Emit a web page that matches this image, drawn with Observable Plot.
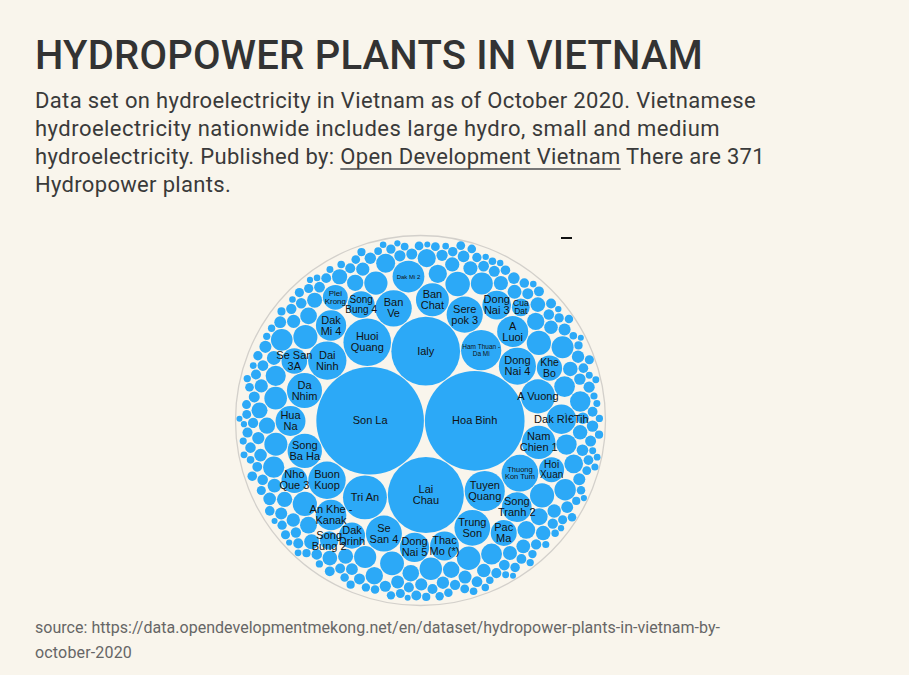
<!DOCTYPE html>
<html><head><meta charset="utf-8">
<script src="https://cdn.jsdelivr.net/npm/d3@7"></script>
<script src="https://cdn.jsdelivr.net/npm/@observablehq/plot@0.6"></script>
<style>
html,body{margin:0;padding:0;background:#f9f5ec;width:909px;height:675px;overflow:hidden;position:relative;}
.line{position:absolute;left:35px;white-space:nowrap;font-family:Roboto,"Open Sans",sans-serif;line-height:normal;}
.title{font-size:40px;font-weight:500;color:#333;}
.sub{font-size:22px;color:#3a3a3a;}
.src{font-size:16px;color:#666;}
a{color:inherit;text-decoration:underline;text-decoration-color:#777;text-underline-offset:4px;text-decoration-thickness:1.5px}
#chart{position:absolute;left:0;top:230px;}
#tick{position:absolute;left:561px;top:237px;width:11px;height:1.5px;background:#111;}
</style></head><body>
<div class="line title" data-base="69" data-w="668"><span>HYDROPOWER PLANTS IN VIETNAM</span></div>
<div class="line sub" data-base="107.5" data-w="721"><span>Data set on hydroelectricity in Vietnam as of October 2020. Vietnamese</span></div>
<div class="line sub" data-base="135.8" data-w="685"><span>hydroelectricity nationwide includes large hydro, small and medium</span></div>
<div class="line sub" data-base="164.1" data-w="730"><span>hydroelectricity. Published by: <a href="#">Open Development Vietnam</a> There are 371</span></div>
<div class="line sub" data-base="192.4" data-w="196"><span>Hydropower plants.</span></div>
<div class="line src" data-base="633.3" data-w="685"><span>source: https://data.opendevelopmentmekong.net/en/dataset/hydropower-plants-in-vietnam-by-</span></div>
<div class="line src" data-base="658.3" data-w="97"><span>october-2020</span></div>
<div id="tick"></div>
<div id="chart"></div>
<script>
// Named plants (labelled circles), sizes
const plantNames = ["Son La","Hoa Binh","Lai Chau","Ialy","Huoi Quang","Tri An","Ham Thuan - Da Mi","Tuyen Quang","Dai Ninh","Buon Kuop","Dong Nai 4","Thuong Kon Tum","Ban Ve","Sere pok 3","Se San 4","Trung Son","Da Nhim","Song Ba Ha","A Vuong","Nam Chien 1","Ban Chat","Dak Mi 2","A Luoi","An Khe - Kanak","Dak Mi 4","Hua Na","Song Tranh 2","Dak R'Tih","Dong Nai 5","Thac Mo","Dong Nai 3","Song Bung 4","Dak Drinh","Pac Ma","Nho Que 3","Se San 3A","Khe Bo","Hoi Xuan","Plei Krong","Song Bung 2","Cua Dat"];
const plantLabels = ["Son La","Hoa Binh","Lai\nChau","Ialy","Huoi\nQuang","Tri An","Ham Thuan -\nDa Mi","Tuyen\nQuang","Dai\nNinh","Buon\nKuop","Dong\nNai 4","Thuong\nKon Tum","Ban\nVe","Sere\npok 3","Se\nSan 4","Trung\nSon","Da\nNhim","Song\nBa Ha","A Vuong","Nam\nChien 1","Ban\nChat","Dak Mi 2","A\nLuoi","An Khe -\nKanak","Dak\nMi 4","Hua\nNa","Song\nTranh 2","Dak R\u00cc\u20acTih","Dong\nNai 5","Thac\nMo (*)","Dong\nNai 3","Song\nBung 4","Dak\nDrinh","Pac\nMa","Nho\nQue 3","Se San\n3A","Khe\nBo","Hoi\nXuan","Plei\nKrong","Song\nBung 2","Cua\nDat"];
const plantValues = [2400,2060,1200,980,470,400,336,334,305,290,285,280,275,272,268,265,255,245,240,232,225,210,200,195,190,186,183,180,178,172,170,150,142,140,138,136,132,130,128,71,66];
// Unlabelled plants, sizes
const otherValues = [
125,122,122,121,120,118,115,112,
110,106,105,102,100,100,97,95,93,91,89,87,86,84,
75,73,69,68,65,63,62,60,59,58,57,56,55,54,53,
49,48,47,47,46,45,45,44,44,43,42,42,41,41,40,40,39,39,38,38,37,37,36,36,36,35,35,
33,33,32,32,31,31,30,30,30,30,
29,29,29,28,28,28,28,27,27,27,
26,26,26,26,25,25,25,25,25,25,
24,24,24,24,24,23,23,23,23,23,
22,22,22,22,22,22,21,21,21,21,
21,21,21,20.5,20.5,20.5,20,20,20,20,
20,20,19.5,19.5,19,19,19,19,18.5,18.5,
18,18,18,18,18,17.5,17.5,17,17,17,
17,16.5,16.5,16.5,16,16,16,16,16,15.5,
15.5,15.5,15,15,15,15,15,15,14.5,14.5,
14.5,14.5,14,14,14,14,14,14,14,13.5,
12.5,12.5,12,12,12,12,12,11.5,11.5,11.5,
11,11,11,11,11,11,10.5,10.5,10.5,10.5,
10,10,10,10,10,10,10,9.5,9.5,9.5,
9,9,9,9,9,8.5,8.5,8.5,8,8,
8,8,8,8,7.5,7.5,7.5,7.5,7.5,7.5
];
const labelSize = {"Ham Thuan - Da Mi":6.5,"Thuong Kon Tum":7.5,"Dak Mi 2":6,"Plei Krong":8,"Cua Dat":8.5,"Song Bung 4":10,"Khe Bo":10.5,"Hoi Xuan":10};

// fit each text line to the reference width and baseline
document.querySelectorAll(".line").forEach(el => {
  const span = el.querySelector("span");
  const target = +el.dataset.w;
  const n = span.textContent.length;
  const w = span.getBoundingClientRect().width;
  el.style.letterSpacing = ((target - w) / n) + "px";
  el.style.top = "0px";
  const m = document.createElement("span");
  m.style.cssText = "display:inline-block;width:0;height:0;vertical-align:baseline";
  el.appendChild(m);
  const off = m.getBoundingClientRect().top - el.getBoundingClientRect().top;
  el.style.top = (+el.dataset.base - off) + "px";
});

const plants = plantNames.map((name, i) => ({name, label: plantLabels[i], value: plantValues[i]}))
  .concat(otherValues.map(v => ({name: "", label: "", value: v})));
const root = d3.pack().size([370, 370]).padding(1)(
  d3.hierarchy({children: plants}).sum(d => d.value || 0).sort((a, b) => b.value - a.value));
const leaves = root.leaves();
const labeled = leaves.filter(d => d.data.label);

const chart = Plot.plot({
  width: 909, height: 380, margin: 0,
  x: {domain: [-235, 674], range: [0, 909], axis: null},
  y: {domain: [-5, 375], range: [0, 380], axis: null},
  r: {type: "identity"},
  style: {background: "transparent", overflow: "visible"},
  marks: [
    Plot.dot([root], {x: "x", y: "y", r: "r", fill: "none", stroke: "#d3d0cb", strokeWidth: 1.3}),
    Plot.dot(leaves, {x: "x", y: "y", r: "r", fill: "#2ca9f7"}),
    Plot.text(labeled, {x: "x", y: "y", text: d => d.data.label, fontSize: d => labelSize[d.data.name] ?? 11,
      fill: "#111", fontFamily: "'Liberation Sans', Arial, Helvetica, sans-serif", lineHeight: 1})
  ]
});
document.getElementById("chart").appendChild(chart);
</script>
</body></html>
